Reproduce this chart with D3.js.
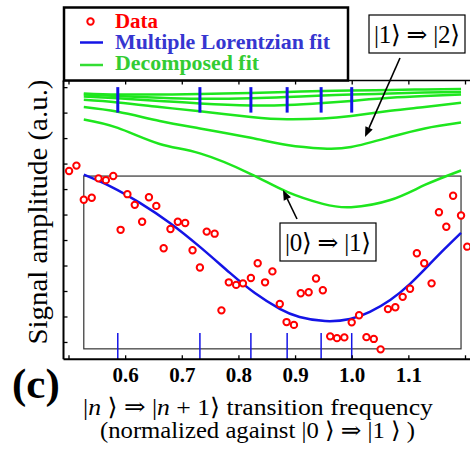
<!DOCTYPE html>
<html>
<head>
<meta charset="utf-8">
<script src="https://cdn.jsdelivr.net/npm/d3@7"></script>
<style>
  html, body { margin: 0; padding: 0; background: #fff; }
  svg { display: block; }
  text { font-family: "Liberation Serif", "DejaVu Serif", serif; }
</style>
</head>
<body>
<svg id="chart" width="470" height="450"></svg>
<script>
// measured points (normalized frequency, signal a.u.)
const dataX = [0.501, 0.514, 0.527, 0.541, 0.553, 0.566, 0.579, 0.592, 0.604, 0.617,
  0.630, 0.642, 0.655, 0.668, 0.680, 0.693, 0.706, 0.719, 0.732, 0.744,
  0.758, 0.770, 0.783, 0.796, 0.808, 0.822, 0.834, 0.847, 0.860, 0.873,
  0.885, 0.898, 0.910, 0.924, 0.937, 0.949, 0.962, 0.974, 0.987, 1.000,
  1.013, 1.026, 1.039, 1.051, 1.064, 1.077, 1.090, 1.103, 1.115, 1.128,
  1.141, 1.154, 1.167, 1.179, 1.193, 1.204];
const dataY = [6.71, 6.92, 5.58, 5.66, 6.42, 6.35, 6.51, 4.40, 5.80, 5.38,
  4.72, 5.68, 5.34, 3.68, 4.43, 4.72, 4.67, 3.60, 2.92, 4.33,
  4.25, 1.24, 2.34, 2.24, 2.30, 2.51, 3.09, 2.34, 2.77, 1.49,
  0.78, 0.67, 1.91, 1.95, 2.49, 2.03, 0.22, 0.15, 0.18, 0.77,
  1.05, 0.19, 0.12, -0.29, 1.29, 1.36, 1.77, 2.09, 3.48, 3.09,
  2.30, 5.09, 4.52, 5.74, 4.96, 3.74];

// multiple Lorentzian fit
const fitX = [0.527, 0.573, 0.626, 0.679, 0.732, 0.785, 0.829, 0.873, 0.908,
  0.953, 0.997, 1.032, 1.068, 1.103, 1.138, 1.164, 1.193];
const fitY = [6.57, 6.12, 5.46, 4.67, 3.73, 2.71, 1.92, 1.30, 0.98,
  0.82, 0.90, 1.18, 1.65, 2.28, 3.06, 3.65, 4.28];

// decomposed fits (one per transition), sampled at compX
const compX = [0.527, 0.587, 0.661, 0.732, 0.822, 0.886, 0.949, 0.999, 1.068, 1.129, 1.193];
const comp01 = [8.73, 8.40, 7.77, 7.40, 6.59, 5.89, 5.42, 5.29, 5.57, 6.16, 6.73];
const comp12 = [9.22, 9.03, 8.67, 8.38, 8.01, 7.73, 7.59, 7.65, 8.04, 8.38, 8.61];
const comp23 = [9.50, 9.40, 9.22, 9.05, 8.83, 8.74, 8.77, 8.87, 9.07, 9.22, 9.39];
const comp34 = [9.63, 9.56, 9.46, 9.36, 9.28, 9.30, 9.38, 9.46, 9.58, 9.65, 9.71];
const comp45 = [9.71, 9.65, 9.58, 9.54, 9.56, 9.61, 9.67, 9.71, 9.75, 9.79, 9.81];
const comp56 = [9.75, 9.71, 9.71, 9.73, 9.77, 9.81, 9.85, 9.87, 9.89, 9.91, 9.93];

// transition frequencies (blue markers)
const peaks = [0.587, 0.732, 0.822, 0.886, 0.946, 1.0];

const xTicks = [0.5, 0.6, 0.7, 0.8, 0.9, 1.0, 1.1, 1.2];
const xTickLabels = ["", "0.6", "0.7", "0.8", "0.9", "1.0", "1.1", ""];
const yTicks = [0, 1, 2, 3, 4, 5, 6, 7, 8, 9, 10];

const svg = d3.select("#chart");
const mLeft = 63.5, mRight = 475, mTop = 80.5, mBottom = 359.3;

const x = d3.scaleLinear().domain([0.5, 1.2]).range([68.5, 465]);
const y = d3.scaleLinear().domain([-0.68, 10.26]).range([mBottom, mTop]);

const green = "#1ee61e", blue = "#1414e6";

// inner reference box
svg.append("rect")
  .attr("x", x(0.527)).attr("y", y(6.51))
  .attr("width", x(1.193) - x(0.527))
  .attr("height", y(-0.27) - y(6.51))
  .attr("fill", "none").attr("stroke", "#333").attr("stroke-width", 1.2);

// green decomposed curves
const line = d3.line().x(d => x(d[0])).y(d => y(d[1])).curve(d3.curveNatural);
[comp01, comp12, comp23, comp34, comp45, comp56].forEach(c => {
  svg.append("path")
    .datum(compX.map((v, i) => [v, c[i]]))
    .attr("d", line)
    .attr("fill", "none").attr("stroke", green).attr("stroke-width", 2.5);
});

// top blue markers
svg.selectAll(".peakTop").data(peaks).enter().append("line")
  .attr("x1", d => x(d)).attr("x2", d => x(d))
  .attr("y1", y(10.0)).attr("y2", y(9.0))
  .attr("stroke", blue).attr("stroke-width", 3);

// bottom blue markers
svg.selectAll(".peakBot").data(peaks).enter().append("line")
  .attr("x1", d => x(d)).attr("x2", d => x(d))
  .attr("y1", y(0.35)).attr("y2", mBottom)
  .attr("stroke", blue).attr("stroke-width", 1.5);

// fit
svg.append("path")
  .datum(fitX.map((v, i) => [v, fitY[i]]))
  .attr("d", line)
  .attr("fill", "none").attr("stroke", blue).attr("stroke-width", 2.5);

// data
svg.selectAll(".dot").data(dataX).enter().append("circle")
  .attr("cx", d => x(d))
  .attr("cy", (d, i) => y(dataY[i]))
  .attr("r", 3.2)
  .attr("fill", "#fff").attr("stroke", "#f00").attr("stroke-width", 2);

// axes
const axB = d3.axisBottom(x).tickValues(xTicks).tickSize(-4).tickFormat((d, i) => xTickLabels[i]);
const gB = svg.append("g").attr("transform", `translate(0,${mBottom})`).call(axB);
const axT = d3.axisTop(x).tickValues(xTicks).tickSize(-4).tickFormat("");
const gT = svg.append("g").attr("transform", `translate(0,${mTop})`).call(axT);
const axL = d3.axisLeft(y).tickValues(yTicks).tickSize(-4).tickFormat("");
const gL = svg.append("g").attr("transform", `translate(${mLeft},0)`).call(axL);
[gB, gT, gL].forEach(g => {
  g.select(".domain").remove();
  g.selectAll(".tick line").attr("stroke", "#000").attr("stroke-width", 1.3);
});
gB.selectAll(".tick text")
  .attr("dy", null).attr("y", 23)
  .style("font-family", "'Liberation Serif', serif")
  .style("font-weight", "bold").style("font-size", "21px").attr("fill", "#000");

svg.append("line").attr("x1", mLeft).attr("x2", mRight).attr("y1", mBottom).attr("y2", mBottom)
  .attr("stroke", "#000").attr("stroke-width", 2);
svg.append("line").attr("x1", mLeft).attr("x2", mRight).attr("y1", mTop).attr("y2", mTop)
  .attr("stroke", "#000").attr("stroke-width", 1.5);
svg.append("line").attr("x1", mLeft).attr("x2", mLeft).attr("y1", mTop).attr("y2", mBottom)
  .attr("stroke", "#000").attr("stroke-width", 2);

// legend
const lg = svg.append("g");
lg.append("rect").attr("x", 64).attr("y", 7.5).attr("width", 284).attr("height", 73)
  .attr("fill", "#fff").attr("stroke", "#000").attr("stroke-width", 2.5);
lg.append("circle").attr("cx", 90.5).attr("cy", 21.5).attr("r", 3.2)
  .attr("fill", "#fff").attr("stroke", "#f00").attr("stroke-width", 2);
lg.append("line").attr("x1", 80).attr("x2", 103).attr("y1", 42.5).attr("y2", 42.5)
  .attr("stroke", blue).attr("stroke-width", 2.5);
lg.append("line").attr("x1", 80).attr("x2", 103).attr("y1", 65).attr("y2", 65)
  .attr("stroke", "#33dd33").attr("stroke-width", 2.5);
const legItems = [["Data", "#ff0000", 27.5, 43], ["Multiple Lorentzian fit", "#3636d0", 48.5, 215], ["Decomposed fit", "#33cc33", 69.5, 144]];
legItems.forEach(d => {
  lg.append("text").attr("x", 115).attr("y", d[2]).text(d[0])
    .attr("textLength", d[3]).attr("lengthAdjust", "spacingAndGlyphs")
    .attr("fill", d[1]).style("font-weight", "bold").style("font-size", "20px");
});

// annotations
function arrow(x1, y1, x2, y2) {
  const a = Math.atan2(y2 - y1, x2 - x1), L = 10, W = 4;
  const bx = x2 - L * Math.cos(a), by = y2 - L * Math.sin(a);
  svg.append("line").attr("x1", x1).attr("y1", y1).attr("x2", bx).attr("y2", by)
    .attr("stroke", "#000").attr("stroke-width", 1.6);
  svg.append("path")
    .attr("d", `M${x2},${y2}L${bx - W * Math.sin(a)},${by + W * Math.cos(a)}L${bx + W * Math.sin(a)},${by - W * Math.cos(a)}Z`)
    .attr("fill", "#000");
}
function ketBox(bx, by, w, h, a, b) {
  svg.append("rect").attr("x", bx).attr("y", by).attr("width", w).attr("height", h)
    .attr("fill", "#fff").attr("stroke", "#000").attr("stroke-width", 1.2);
  svg.append("text").attr("x", bx + w / 2).attr("y", by + h - 10)
    .attr("text-anchor", "middle").style("font-size", "25px")
    .attr("textLength", w - 10).attr("lengthAdjust", "spacing")
    .text(`|${a}\u27E9 \u21D2 |${b}\u27E9`);
}
arrow(400, 58, 365, 137);
ketBox(369, 15, 96, 38, 1, 2);
arrow(297, 219, 283, 190);
ketBox(280, 223, 96, 38, 0, 1);

// labels
svg.append("text").attr("x", 12).attr("y", 398).text("(c)")
  .style("font-weight", "bold").style("font-size", "43px");

const t1 = svg.append("text").attr("x", 83).attr("y", 415)
  .attr("textLength", 350).attr("lengthAdjust", "spacingAndGlyphs")
  .style("font-size", "24px");
t1.append("tspan").text("|");
t1.append("tspan").text("n").style("font-style", "italic");
t1.append("tspan").text(" \u27E9 \u21D2  |");
t1.append("tspan").text("n").style("font-style", "italic");
t1.append("tspan").text(" + 1\u27E9 transition frequency");

svg.append("text").attr("x", 100).attr("y", 438)
  .attr("textLength", 315).attr("lengthAdjust", "spacingAndGlyphs")
  .style("font-size", "23px")
  .text("(normalized against |0 \u27E9 \u21D2  |1 \u27E9 )");

svg.append("text")
  .attr("transform", "translate(47,212) rotate(-90)")
  .attr("text-anchor", "middle")
  .attr("textLength", 265).attr("lengthAdjust", "spacingAndGlyphs")
  .style("font-size", "27px")
  .text("Signal amplitude (a.u.)");
</script>
</body>
</html>
